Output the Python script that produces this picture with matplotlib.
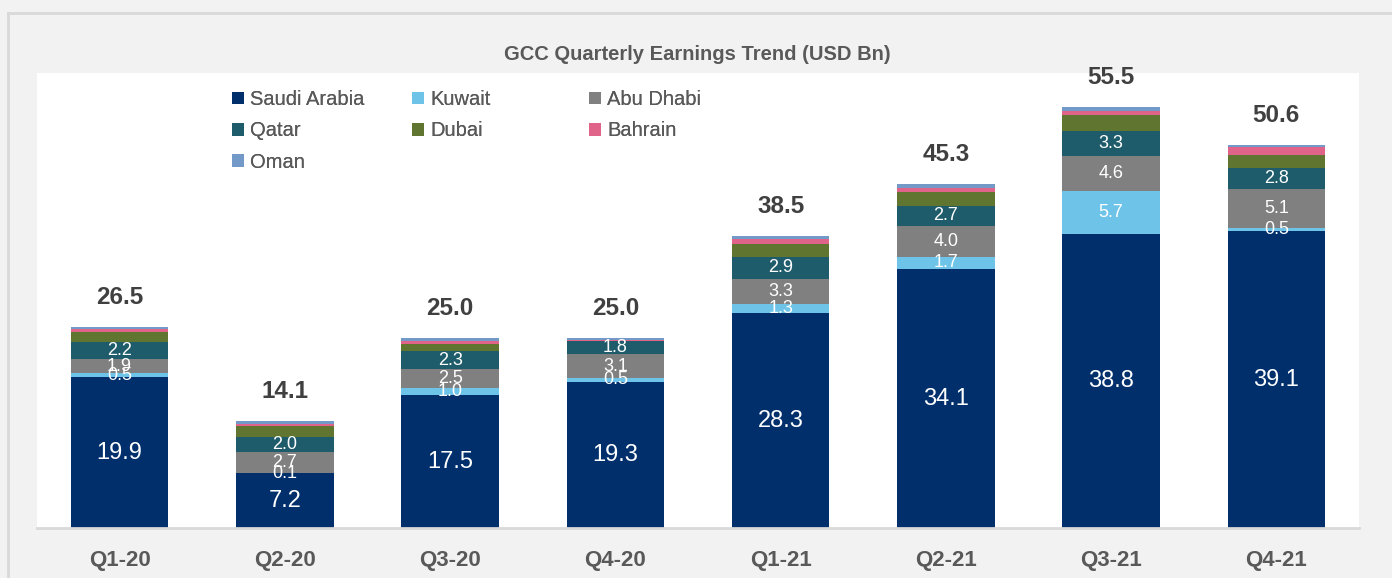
import numpy as np
import matplotlib
matplotlib.use("Agg")
import matplotlib.pyplot as plt
from matplotlib.patches import Patch
from matplotlib.lines import Line2D

quarters = ["Q1-20", "Q2-20", "Q3-20", "Q4-20", "Q1-21", "Q2-21", "Q3-21", "Q4-21"]
saudi = [19.9, 7.2, 17.5, 19.3, 28.3, 34.1, 38.8, 39.1]
kuwait = [0.5, 0.1, 1.0, 0.5, 1.3, 1.7, 5.7, 0.5]
abu_dhabi = [1.9, 2.7, 2.5, 3.1, 3.3, 4.0, 4.6, 5.1]
qatar = [2.2, 2.0, 2.3, 1.8, 2.9, 2.7, 3.3, 2.8]
dubai = [1.3, 1.4, 1.0, 0.0, 1.65, 1.8, 2.1, 1.7]
bahrain = [0.4, 0.3, 0.4, 0.15, 0.65, 0.55, 0.55, 1.0]
oman = [0.3, 0.4, 0.3, 0.15, 0.4, 0.45, 0.45, 0.3]
totals = [26.5, 14.1, 25.0, 25.0, 38.5, 45.3, 55.5, 50.6]

series = [
    ("Saudi Arabia", saudi, "#002f6c"),
    ("Kuwait", kuwait, "#6ec4e8"),
    ("Abu Dhabi", abu_dhabi, "#808080"),
    ("Qatar", qatar, "#1f5c6b"),
    ("Dubai", dubai, "#5f7530"),
    ("Bahrain", bahrain, "#e0648a"),
    ("Oman", oman, "#7399c9"),
]
labelled = ["Saudi Arabia", "Kuwait", "Abu Dhabi", "Qatar"]

plt.rcParams["font.family"] = ["Liberation Sans", "DejaVu Sans"]

fig = plt.figure(figsize=(13.92, 5.78), dpi=100, facecolor="#f2f2f2")
ax = fig.add_axes([37 / 1392, 1 - 528 / 578, (1359 - 37) / 1392, (528 - 73) / 578])
ax.set_facecolor("white")

x = np.arange(len(quarters))
bottom = np.zeros(len(quarters))
handles = {}
for name, vals, color in series:
    vals = np.array(vals)
    ax.bar(x, vals, 0.59, bottom=bottom, color=color, edgecolor="none")
    handles[name] = Patch(facecolor=color, label=name)
    if name in labelled:
        size = 17 if name == "Saudi Arabia" else 13
        for xi, b, v in zip(x, bottom, vals):
            ax.text(xi, b + v / 2, f"{v:.1f}", ha="center", va="center",
                    color="white", fontsize=size)
    bottom = bottom + vals

for xi, top, t in zip(x, bottom, totals):
    ax.annotate(f"{t:.1f}", (xi, top), xytext=(0, 13), textcoords="offset points",
                ha="center", va="bottom", fontsize=17.5, fontweight="bold",
                color="#404040")

ax.set_xlim(-0.5, len(quarters) - 0.5)
ax.set_ylim(0, 60)
ax.set_yticks([])
ax.set_xticks(x)
ax.set_xticklabels(quarters, fontsize=16, fontweight="bold", color="#595959")
ax.tick_params(axis="x", length=0, pad=16)
for s in ["top", "right", "left"]:
    ax.spines[s].set_visible(False)
ax.spines["bottom"].set_color("#d9d9d9")
ax.spines["bottom"].set_linewidth(2)

fig.text(697 / 1392, 1 - 55 / 578, "GCC Quarterly Earnings Trend (USD Bn)",
         ha="center", va="center", fontsize=14.5, fontweight="bold",
         color="#595959")

# legend in three separate columns so they are evenly spaced
columns = [["Saudi Arabia", "Qatar", "Oman"], ["Kuwait", "Dubai"], ["Abu Dhabi", "Bahrain"]]
col_x = [232, 412, 589]
for names, cx in zip(columns, col_x):
    leg = fig.legend(handles=[handles[n] for n in names], loc="upper left",
                     bbox_to_anchor=(cx / 1392, 1 - 90 / 578), frameon=False,
                     prop={"size": 14.5}, labelcolor="#595959",
                     handlelength=0.6, handleheight=0.6, handletextpad=0.3,
                     labelspacing=0.62, borderpad=0, borderaxespad=0)
    fig.add_artist(leg)

# outer chart border
fig.add_artist(Line2D([8 / 1392, 8 / 1392], [0, 1 - 13 / 578], color="#d9d9d9",
                      lw=2, transform=fig.transFigure))
fig.add_artist(Line2D([8 / 1392, 1], [1 - 13 / 578, 1 - 13 / 578], color="#d9d9d9",
                      lw=2, transform=fig.transFigure))

fig.savefig("out.png", dpi=100, facecolor=fig.get_facecolor())
